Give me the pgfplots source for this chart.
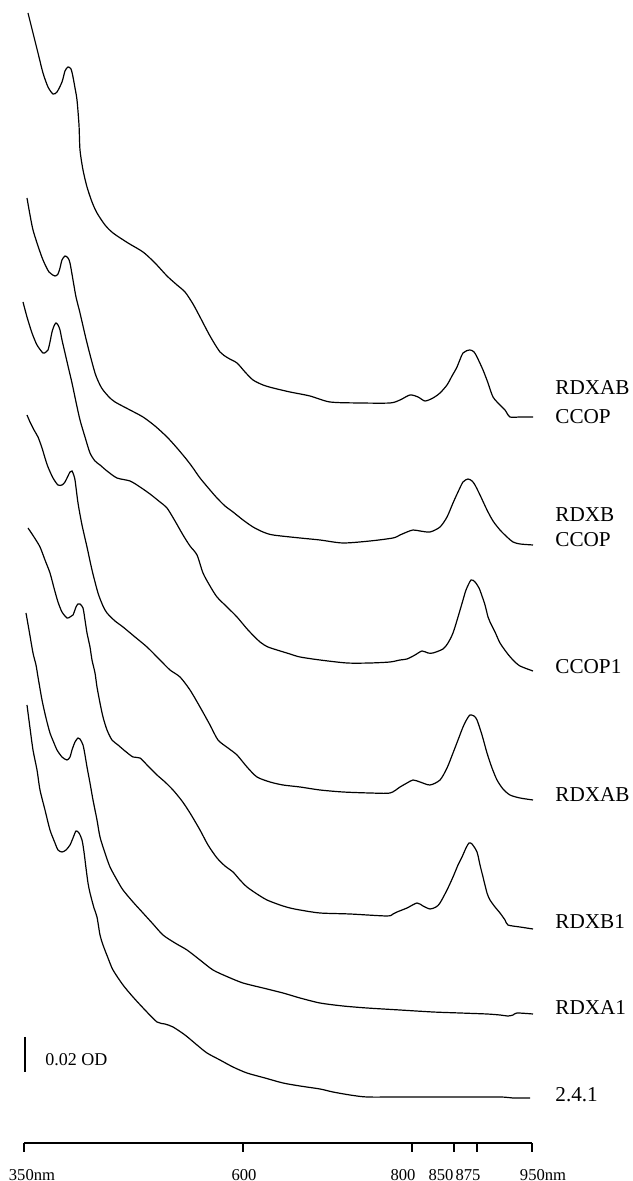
\documentclass[border=0pt]{standalone}
\usepackage{fontspec}
\setmainfont{Liberation Serif}
\usepackage{pgfplots}
\pgfplotsset{compat=1.18}
\usepackage{pgfplotstable}

\pgfplotstableread{
x y
28 13
33 33
38 53
43 73
48 87
53 94
57 92
62 82
65 71
68 67
71 69
73 77
75 88
77 100
79 125
80 150
83 170
87 187
92 202
97 213
105 225
113 233
128 243
143 252
155 263
167 276
177 285
185 292
193 304
200 317
210 336
220 352
228 358
237 363
245 372
253 380
263 385
273 388
290 392
310 396
330 402
360 403
390 403
400 400
410 395
418 397
425 401
433 398
440 393
447 385
452 376
457 367
463 353
470 350
474 352
477 357
483 370
488 383
493 397
500 405
505 410
510 417
520 417
533 417
}\cA

\pgfplotstableread{
x y
27 198
30 215
33 230
38 246
43 260
49 272
55 276
58 274
60 268
62 260
65 256
68 258
70 263
73 280
76 297
80 313
87 343
95 373
100 385
103 390
109 397
115 402
130 410
143 417
155 426
167 437
177 448
187 460
193 468
200 478
210 490
217 498
225 506
233 512
243 520
253 527
263 532
273 535
300 538
320 540
343 543
370 541
393 538
400 535
407 532
413 530
420 531
430 532
440 527
447 517
453 503
458 492
463 482
468 479
472 481
475 485
480 495
487 510
493 521
500 530
507 537
513 542
520 544
533 545
}\cB

\pgfplotstableread{
x y
23 302
27 317
32 333
37 345
43 353
46 352
48 350
50 342
52 332
54 326
56 323
58 325
60 330
62 340
65 353
68 366
72 383
76 402
80 420
85 437
90 453
95 461
100 465
107 471
117 478
130 481
140 487
150 494
160 502
167 508
175 521
183 535
190 546
197 555
203 573
210 586
217 597
227 607
237 617
248 630
260 642
268 647
277 650
290 654
300 657
320 660
347 663
370 663
390 662
400 660
407 659
415 655
422 651
428 653
433 653
443 649
448 643
453 633
458 617
463 600
466 590
471 580
475 582
479 588
482 596
485 605
488 617
490 622
495 632
500 643
507 653
513 660
520 666
533 671
}\cC

\pgfplotstableread{
x y
27 415
30 422
34 430
38 437
42 448
45 458
48 467
53 478
58 485
62 485
65 482
68 476
70 472
72 471
73 473
75 480
78 503
82 525
87 547
92 570
98 593
103 606
107 613
115 621
123 627
135 637
147 647
160 660
170 670
180 677
190 690
200 707
210 725
218 740
228 748
237 755
247 767
257 777
270 782
283 785
300 787
320 790
343 792
370 793
390 793
400 787
407 783
413 780
420 782
430 785
440 780
447 768
453 753
458 740
463 727
467 719
470 715
474 716
477 720
482 735
487 753
492 768
497 780
503 789
510 795
520 798
533 800
}\cD

\pgfplotstableread{
x y
28 528
34 537
40 547
45 560
50 573
54 588
58 602
62 612
67 618
70 617
73 615
76 607
78 604
80 604
83 608
85 620
87 633
90 647
92 660
95 673
97 687
100 703
103 717
107 730
112 740
118 745
125 751
133 757
140 758
148 766
157 775
165 782
173 790
182 801
190 813
200 830
208 845
217 858
225 866
233 872
240 880
247 887
257 894
267 900
280 905
290 908
300 910
320 913
350 914
387 916
393 914
397 912
407 908
417 903
423 906
430 909
436 907
440 903
447 890
453 877
458 865
462 857
466 848
469 843
472 844
477 852
480 865
483 877
487 893
490 900
495 907
500 913
505 920
508 925
520 927
533 929
}\cE

\pgfplotstableread{
x y
26 613
29 630
33 653
36 665
38 677
42 700
46 718
50 733
54 743
57 750
62 757
67 760
70 757
72 750
75 742
78 738
80 739
83 745
85 755
87 767
90 783
93 800
97 820
100 837
105 853
110 867
117 880
123 890
133 902
143 913
153 924
163 935
175 943
187 950
200 960
213 970
228 977
243 983
263 988
283 993
300 998
320 1003
343 1006
367 1008
400 1010
433 1012
460 1013
487 1014
500 1015
508 1016
513 1015
517 1013
533 1014
}\cF

\pgfplotstableread{
x y
27 705
30 728
33 750
37 770
40 790
45 810
50 830
55 843
58 850
62 852
66 850
70 845
73 838
76 831
79 833
82 840
84 852
86 868
88 883
90 893
94 908
97 917
100 935
103 945
108 958
113 970
123 985
133 997
145 1010
157 1022
165 1024
173 1027
185 1035
197 1045
207 1053
220 1060
233 1067
247 1073
265 1078
283 1083
300 1086
320 1089
333 1092
350 1095
367 1097
400 1097
450 1097
500 1097
513 1098
530 1098
}\cG

\begin{document}
\begin{tikzpicture}
\begin{axis}[
  x=0.5pt, y=0.5pt,
  xmin=24, xmax=532, ymin=-1143, ymax=0,
  enlargelimits=false,
  axis x line=bottom, axis y line=none,
  axis line style={-, line width=0.8pt, black},
  xtick={24,243,412,454,477,532},
  xticklabels={,,,,,},
  xtick align=outside,
  major tick length=4.5pt,
  tick style={line width=0.7pt, black},
  xticklabel style={inner sep=0pt},
  clip=false,
  every axis plot/.append style={line width=0.6pt, black, smooth, tension=0.45},
]
\path (axis cs:0,0) -- (axis cs:632,-1181);
\addplot[no marks] table[x=x, y expr=-\thisrow{y}] {\cA};
\addplot[no marks] table[x=x, y expr=-\thisrow{y}] {\cB};
\addplot[no marks] table[x=x, y expr=-\thisrow{y}] {\cC};
\addplot[no marks] table[x=x, y expr=-\thisrow{y}] {\cD};
\addplot[no marks] table[x=x, y expr=-\thisrow{y}] {\cE};
\addplot[no marks] table[x=x, y expr=-\thisrow{y}] {\cF};
\addplot[no marks] table[x=x, y expr=-\thisrow{y}] {\cG};
\begin{scope}[every node/.style={anchor=base, inner sep=0pt, font=\fontsize{8.3}{10}\selectfont}]
\node at (axis cs:32,-1180) {350nm};
\node at (axis cs:244,-1180) {600};
\node at (axis cs:403,-1180) {800};
\node at (axis cs:441,-1180) {850};
\node at (axis cs:468,-1180) {875};
\node at (axis cs:543,-1180) {950nm};
\end{scope}
\begin{scope}[every node/.style={anchor=base west, inner sep=0pt, font=\fontsize{10.6}{12}\selectfont}]
\node at (axis cs:555,-395) {RDXAB};
\node at (axis cs:555,-424) {CCOP};
\node at (axis cs:555,-522) {RDXB};
\node at (axis cs:555,-547) {CCOP};
\node at (axis cs:555,-674) {CCOP1};
\node at (axis cs:555,-802) {RDXAB};
\node at (axis cs:555,-929) {RDXB1};
\node at (axis cs:555,-1015) {RDXA1};
\node at (axis cs:555,-1102) {2.4.1};
\end{scope}
\draw[line width=0.6pt] (axis cs:25,-1037) -- (axis cs:25,-1072);
\node[anchor=base west, inner sep=0pt, font=\fontsize{9}{10}\selectfont] at (axis cs:45,-1066) {0.02 OD};
\end{axis}
\end{tikzpicture}
\end{document}
